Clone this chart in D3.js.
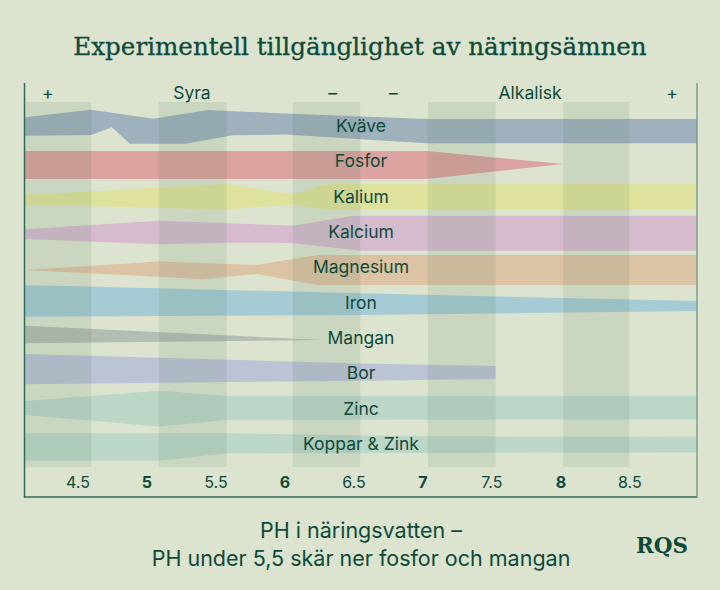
<!DOCTYPE html>
<html><head><meta charset="utf-8">
<script src="https://cdn.jsdelivr.net/npm/d3@7"></script>
<style>
html,body{margin:0;padding:0;background:#dce3ce;}
svg{display:block;}
</style></head>
<body>
<svg id="chart" width="720" height="590"></svg>
<script>
// ---------- data ----------
const nutrients = ["Kväve","Fosfor","Kalium","Kalcium","Magnesium","Iron","Mangan","Bor","Zinc","Koppar & Zink"];
const bandColors = ["#9fb1bd","#daa39f","#dfe29d","#d5bbcd","#dbc3a4","#a6cbd4","#b4bdb3","#bcc3d5","#bcd6c8","#bcd6c8"];
// band edges: [pH, offset from row centre in half-row units] (negative = up)
const kvaveTop = [[4.12,-0.72],[4.60,-1.15],[5.05,-0.64],[5.45,-1.13],[6.0,-0.94],[7.03,-0.62],[8.99,-0.62]];
const kvaveBottom = [[4.12,0.32],[4.60,0.28],[4.75,-0.15],[4.88,0.78],[5.28,0.78],[5.63,0.30],[6.0,0.26],[7.03,0.75],[8.99,0.75]];
const fosforTop = [[4.12,-0.81],[7.03,-0.81],[8.02,-0.08]];
const fosforBottom = [[4.12,0.77],[7.03,0.77],[8.02,-0.08]];
const kaliumTop = [[4.12,-0.32],[5.58,-0.94],[6.06,-0.36],[6.31,-0.94],[8.99,-0.94]];
const kaliumBottom = [[4.12,0.21],[5.58,0.51],[6.06,0.21],[6.31,0.5],[8.99,0.5]];
const kalciumTop = [[4.12,-0.38],[5.09,-0.87],[6.06,-0.58],[6.5,-1.15],[8.99,-1.15]];
const kalciumBottom = [[4.12,0.17],[5.09,0.47],[5.58,0.38],[6.06,0.40],[6.55,0.83],[8.99,0.83]];
const magnesiumTop = [[4.12,-0.075],[5.09,-0.55],[5.80,-0.36],[6.24,-0.92],[8.99,-0.92]];
const magnesiumBottom = [[4.12,-0.075],[5.09,0.30],[5.41,0.45],[5.80,0.15],[6.24,0.77],[8.99,0.77]];
const ironTop = [[4.12,-1.23],[6.55,-0.76],[8.99,-0.32]];
const ironBottom = [[4.12,0.57],[6.55,0.47],[8.99,0.25]];
const manganTop = [[4.12,-0.92],[6.28,-0.11]];
const manganBottom = [[4.12,0.07],[6.28,-0.11]];
const borTop = [[4.12,-1.32],[6.55,-0.79],[7.53,-0.64]];
const borBottom = [[4.12,0.39],[6.55,0.19],[7.53,0.09]];
const zincTop = [[4.12,-0.66],[5.09,-1.24],[5.58,-0.94],[8.99,-0.94]];
const zincBottom = [[4.12,0.13],[5.09,0.79],[5.58,0.41],[8.99,0.38]];
const kopparTop = [[4.12,-0.83],[5.58,-0.83],[7.0,-0.66],[8.99,-0.64]];
const kopparBottom = [[4.12,0.72],[5.09,0.72],[5.58,0.30],[8.99,0.24]];
const bandTops = [kvaveTop,fosforTop,kaliumTop,kalciumTop,magnesiumTop,ironTop,manganTop,borTop,zincTop,kopparTop];
const bandBottoms = [kvaveBottom,fosforBottom,kaliumBottom,kalciumBottom,magnesiumBottom,ironBottom,manganBottom,borBottom,zincBottom,kopparBottom];
// shaded pH columns
const columnRanges = [[4.12,4.60],[5.09,5.58],[6.06,6.55],[7.04,7.53],[8.02,8.50]];
const tickValues = [4.5,5,5.5,6,6.5,7,7.5,8,8.5];
const headerLabels = [["+",4.285],["Syra",5.33],["–",6.35],["–",6.79],["Alkalisk",7.78],["+",8.81]];
const title = "Experimentell tillgänglighet av näringsämnen";
const subtitleLines = ["PH i näringsvatten –","PH under 5,5 skär ner fosfor och mangan"];

// ---------- layout ----------
const W = 720, H = 590;
const left = 25, right = 697, colTop = 102, colBottom = 467, axisTop = 83, axisBottom = 497;
const dark = "#0e4a3a";
const sans = "Inter, 'Open Sans', sans-serif";

const svg = d3.select("#chart");
const x = d3.scaleLinear().domain([4.12, 8.99]).range([left, right]);
const y = d3.scalePoint().domain(nutrients).range([130, 448]);
const spread = d3.scaleLinear().domain([0, 1]).range([0, y.step() / 2]);

// title
svg.append("text").attr("x", 360).attr("y", 55).attr("text-anchor", "middle")
  .attr("font-family", "'DejaVu Serif', serif").attr("font-size", 24.6)
  .attr("stroke", dark).attr("stroke-width", 0.3)
  .attr("fill", dark).text(title);

// bands
const line = d3.line();
nutrients.forEach((n, i) => {
  const cy = y(n);
  const pts = bandTops[i].map(([p, o]) => [x(p), cy + spread(o)])
    .concat(bandBottoms[i].slice().reverse().map(([p, o]) => [x(p), cy + spread(o)]));
  svg.append("path").attr("d", line(pts) + "Z").attr("fill", bandColors[i]);
});

// columns overlay
svg.append("g").selectAll("rect").data(columnRanges).join("rect")
  .attr("x", d => x(d[0])).attr("width", d => x(d[1]) - x(d[0]))
  .attr("y", colTop).attr("height", colBottom - colTop)
  .attr("fill", "#3d6b4a").attr("fill-opacity", 0.11);

// nutrient labels
svg.append("g").selectAll("text").data(nutrients).join("text")
  .attr("x", 361).attr("y", d => y(d) + 2).attr("text-anchor", "middle")
  .attr("font-family", sans).attr("font-size", 17.5).attr("fill", dark).text(d => d);

// header labels
svg.append("g").selectAll("text").data(headerLabels).join("text")
  .attr("x", d => x(d[1])).attr("y", 99).attr("text-anchor", "middle")
  .attr("font-family", sans).attr("font-size", 17.5).attr("fill", dark).text(d => d[0]);

// x axis ticks
const axis = d3.axisBottom(x).tickValues(tickValues).tickSize(0).tickPadding(0)
  .tickFormat(d => String(d));
const ag = svg.append("g").attr("transform", `translate(0,${477})`).call(axis);
ag.select(".domain").remove();
ag.selectAll("text").attr("font-family", sans).attr("font-size", 16).attr("fill", dark)
  .attr("font-weight", d => Number.isInteger(d) ? 700 : 400).attr("dy", "0.71em");

// frame lines
svg.append("line").attr("x1", 24.5).attr("x2", 24.5).attr("y1", axisTop).attr("y2", axisBottom + 0.5)
  .attr("stroke", "#2f6b58").attr("stroke-width", 1.5);
svg.append("line").attr("x1", 24).attr("x2", 697.5).attr("y1", axisBottom).attr("y2", axisBottom)
  .attr("stroke", "#2f6b58").attr("stroke-width", 1.5);
svg.append("line").attr("x1", 697).attr("x2", 697).attr("y1", axisTop).attr("y2", axisBottom)
  .attr("stroke", "#7f9c8a").attr("stroke-width", 1.5);

// subtitle
svg.append("g").selectAll("text").data(subtitleLines).join("text")
  .attr("x", 361).attr("y", (d, i) => 538 + i * 28).attr("text-anchor", "middle")
  .attr("font-family", sans).attr("font-size", 21.5).attr("fill", dark).text(d => d);

// logo
svg.append("text").attr("x", 662).attr("y", 553).attr("text-anchor", "middle")
  .attr("font-family", "'DejaVu Serif', serif").attr("font-weight", 700).attr("font-size", 21.5)
  .attr("letter-spacing", 0).attr("fill", dark).text("RQS");
</script>
</body></html>
